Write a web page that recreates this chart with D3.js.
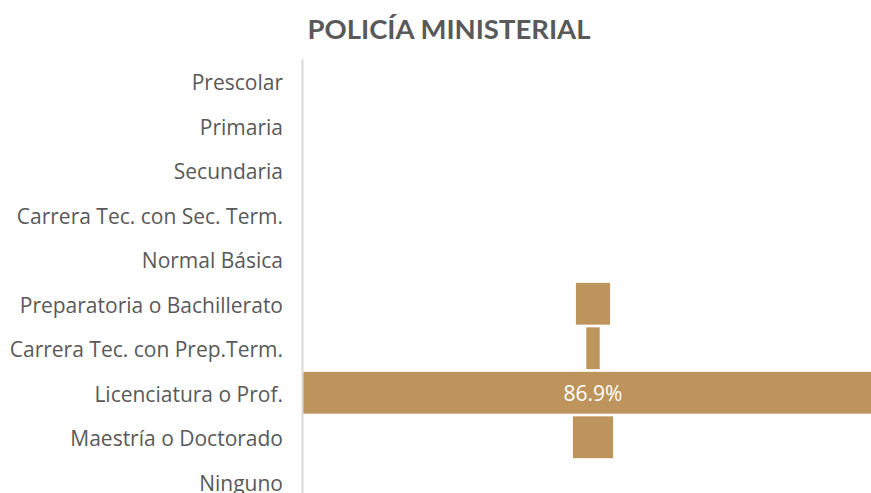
<!DOCTYPE html>
<html>
<head>
<meta charset="utf-8">
<script src="https://cdn.jsdelivr.net/npm/d3@7"></script>
<style>
  body { margin: 0; background: #fff; }
  svg { display: block; font-family: "Open Sans", sans-serif; }
  .axisLeft text { fill: #595959; font-size: 21px; font-family: "Open Sans", sans-serif; }
  .axisLeft path { stroke: #d9d9d9; stroke-width: 2; }
</style>
</head>
<body>
<svg id="chart" width="871" height="493"></svg>
<script>
var categories = ["Prescolar", "Primaria", "Secundaria", "Carrera Tec. con Sec. Term.",
  "Normal Básica", "Preparatoria o Bachillerato", "Carrera Tec. con Prep.Term.",
  "Licenciatura o Prof.", "Maestría o Doctorado", "Ninguno"];
var values = [0, 0, 0, 0, 0, 5.1, 2.0, 86.9, 6.0, 0];
var shownLabels = ["", "", "", "", "", "", "", "86.9%", "", ""];

var svg = d3.select("#chart"),
    margin = {top: 59, left: 302},
    plotWidth = 582,
    plotHeight = 445,
    center = margin.left + plotWidth / 2,
    barColor = "#bd955c";

// title
svg.append("text")
    .attr("x", 449)
    .attr("y", 39)
    .attr("text-anchor", "middle")
    .style("font-family", "Lato, sans-serif")
    .style("font-size", "27.5px")
    .style("font-weight", "bold")
    .style("fill", "#595959")
    .text("POLICÍA MINISTERIAL");

var y = d3.scaleBand()
    .domain(categories)
    .range([margin.top, margin.top + plotHeight])
    .paddingInner(0.06)
    .paddingOuter(0.03);

var w = d3.scaleLinear()
    .domain([0, d3.max(values)])
    .range([0, plotWidth]);

var data = categories.map(function(c, i) {
    return {name: c, value: values[i], label: shownLabels[i]};
});

var bar = svg.selectAll("g.bar")
    .data(data)
    .enter()
    .append("g")
    .attr("class", "bar");

bar.append("rect")
    .attr("x", function(d) { return center - w(d.value) / 2; })
    .attr("y", function(d) { return y(d.name); })
    .attr("width", function(d) { return w(d.value); })
    .attr("height", y.bandwidth())
    .attr("fill", barColor);

bar.filter(function(d) { return d.label; })
    .append("text")
    .attr("x", center)
    .attr("y", function(d) { return y(d.name) + y.bandwidth() / 2 + 1; })
    .attr("dy", ".35em") //vertical align middle
    .attr("text-anchor", "middle")
    .style("fill", "#fff")
    .style("font-size", "21px")
    .text(function(d) { return d.label; });

var yAxis = d3.axisLeft(y).tickSize(0).tickPadding(19);

var axisG = svg.append("g")
    .attr("class", "axisLeft")
    .attr("transform", "translate(" + margin.left + ",0)")
    .call(yAxis);

axisG.selectAll(".tick text").attr("dy", "0.43em");
</script>
</body>
</html>
